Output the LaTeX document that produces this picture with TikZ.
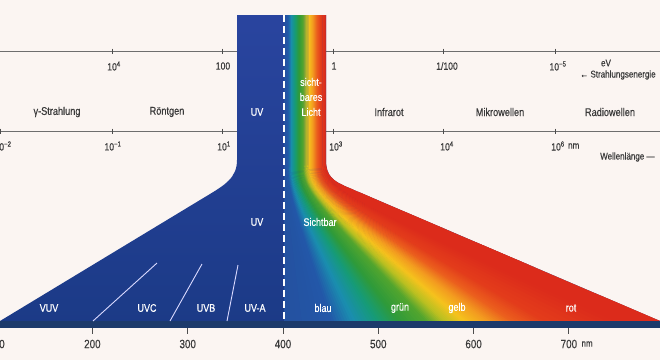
\documentclass[tikz,border=0pt]{standalone}
\usepackage{fontspec}
\newfontfamily\lab[FakeStretch=0.82,FakeBold=0.35]{Liberation Sans}
\definecolor{bg}{HTML}{FBF5F2}
\definecolor{labcol}{HTML}{3A3A3A}
\definecolor{axiscol}{HTML}{6E6E6E}
\definecolor{navy}{HTML}{1C3A6B}
\definecolor{uvtop}{HTML}{2A45A0}
\definecolor{uvbot}{HTML}{1B3A86}
\definecolor{s0}{HTML}{2450A0}
\definecolor{s1}{HTML}{2358A8}
\definecolor{s2}{HTML}{1A8DB0}
\definecolor{s3}{HTML}{169B78}
\definecolor{s4}{HTML}{2E9A3A}
\definecolor{s5}{HTML}{52A52E}
\definecolor{s6}{HTML}{B9C021}
\definecolor{s7}{HTML}{F5C31D}
\definecolor{s8}{HTML}{F39A1F}
\definecolor{s9}{HTML}{EB5F1D}
\definecolor{s10}{HTML}{E33C1B}
\definecolor{s11}{HTML}{DC2B1B}
\tikzset{
  lbl/.style={font=\lab\fontsize{11.2}{13}\selectfont, text=labcol, inner sep=0pt},
  wlbl/.style={font=\lab\fontsize{11}{13}\selectfont, text=white, inner sep=0pt},
  toplbl/.style={font=\lab\fontsize{10.5}{12}\selectfont, text=labcol, inner sep=0pt},
  numlbl/.style={font=\lab\fontsize{12}{14}\selectfont, text=labcol, inner sep=0pt},
  unitlbl/.style={font=\lab\fontsize{9.8}{11}\selectfont, text=labcol, inner sep=0pt},
  axisline/.style={draw=axiscol, line width=0.8pt},
  tickmark/.style={draw=axiscol!70!black, line width=0.9pt},
  sepline/.style={draw=white!85!blue, line width=0.9pt},
}
\begin{document}
\begin{tikzpicture}[x=1pt,y=-1pt]
\useasboundingbox (0,0) rectangle (660,360);
\fill[bg] (0,0) rectangle (660,360);

% axes
\coordinate (eA) at (0,51); \coordinate (eB) at (660,51);
\coordinate (wA) at (0,131); \coordinate (wB) at (660,131);
\draw[axisline] (eA) -- (eB);
\draw[axisline] (wA) -- (wB);
\foreach \x in {112,222,333,443,555} \draw[tickmark] (\x,48.5) -- (\x,53.5);
\foreach \x in {0,112,222,333,443,555} \draw[tickmark] (\x,128.5) -- (\x,133.5);

% coloured shape
\begin{scope}
\clip (237,15) -- (326,15) -- (326,160) .. controls (326,176) and (333,181) .. (347,187)
  -- (660,321) -- (0,321) -- (205,197) .. controls (225,185) and (237,178) .. (237,160) -- cycle;
\shade[top color=uvtop, bottom color=uvbot] (0,0) rectangle (660,330);
\foreach \xa/\xb/\ya/\yb/\ca/\cb in {
  284/288/284/332/s0/s1, 288/291/332/354/s1/s2, 291/295/354/378/s2/s3,
  295/299/378/400/s3/s4, 299/303/400/428/s4/s5, 303/306/428/446/s5/s6,
  306/309/446/466/s6/s7, 309/313/466/490/s7/s8, 313/317/490/515/s8/s9,
  317/321/515/548/s9/s10, 321/326/548/620/s10/s11, 326/345/620/780/s11/s11}{
  \foreach \i in {0,...,7}{
    \pgfmathsetmacro\ta{\xa+(\xb-\xa)*\i/8}
    \pgfmathsetmacro\tb{\xa+(\xb-\xa)*(\i+1.5)/8}
    \pgfmathsetmacro\ba{\ya+(\yb-\ya)*\i/8}
    \pgfmathsetmacro\bb{\ya+(\yb-\ya)*(\i+1.5)/8}
    \pgfmathtruncatemacro\m{94-\i*12.5}
    \fill[\ca!\m!\cb] (\ta,10) -- (\ta,160) .. controls (\ta,190) .. (\ba,323)
      -- (\bb,323) .. controls (\tb,190) .. (\tb,160) -- (\tb,10) -- cycle;
  }
}
\end{scope}

% bottom bar
\fill[navy] (0,321) rectangle (660,328);
\foreach \x in {92.4,187.7,283,378.3,473.6,568.9} \draw[tickmark] (\x,328) -- (\x,334);

% UV separators
\coordinate (c1a) at (93,321); \coordinate (c1b) at (157,263);
\coordinate (c2a) at (170,321); \coordinate (c2b) at (202,264);
\coordinate (c3a) at (227,321); \coordinate (c3b) at (238,265);
\draw[sepline] (c1a) -- (c1b);
\draw[sepline] (c2a) -- (c2b);
\draw[sepline] (c3a) -- (c3b);

% dashed 400 nm line
\coordinate (dA) at (284,15); \coordinate (dB) at (284,321);
\draw[white, line width=1.3pt, dash pattern=on 7pt off 4pt] (dA) -- (dB);

% energy labels
\node[toplbl] (e1) at (114,66) {10\textsuperscript{4}};
\node[toplbl] (e2) at (223,66) {100};
\node[toplbl] (e3) at (334,66) {1};
\node[toplbl] (e4) at (447,66) {1/100};
\node[toplbl] (e5) at (558,66) {10\textsuperscript{−5}};
\node[unitlbl] (ev) at (606,63) {eV};
\node[unitlbl, anchor=west] (se) at (580,75) {← Strahlungsenergie};

% region labels
\node[lbl] (gam) at (57,112) {γ-Strahlung};
\node[lbl] (ron) at (167,112) {Röntgen};
\node[wlbl] (uv1) at (257,112) {UV};
\node[wlbl, align=center, font=\lab\fontsize{11}{15}\selectfont] (sl) at (311,97) {sicht-\\bares\\Licht};
\node[lbl] (ir) at (389,112) {Infrarot};
\node[lbl] (mw) at (500,112) {Mikrowellen};
\node[lbl] (rw) at (610,112) {Radiowellen};

% wavelength labels
\node[toplbl] (w0) at (3,146) {10\textsuperscript{−2}};
\node[toplbl] (w1) at (113,146) {10\textsuperscript{−1}};
\node[toplbl] (w2) at (224,146) {10\textsuperscript{1}};
\node[toplbl] (w3) at (336,146) {10\textsuperscript{3}};
\node[toplbl] (w4) at (447,146) {10\textsuperscript{4}};
\node[toplbl] (w5) at (558,146) {10\textsuperscript{6}};
\node[unitlbl, anchor=west] (wnm) at ([xshift=3pt]w5.east) {nm};
\node[unitlbl, anchor=west] (wl) at (600,157) {Wellenlänge —};

% triangle labels
\node[wlbl] (uv2) at (257,222) {UV};
\node[wlbl] (sb) at (320,222) {Sichtbar};
\node[wlbl] (vuv) at (49,308) {VUV};
\node[wlbl] (uvc) at (147,308) {UVC};
\node[wlbl] (uvb) at (206,308) {UVB};
\node[wlbl] (uva) at (255,308) {UV-A};
\node[wlbl] (bl) at (323,308) {blau};
\node[wlbl] (gr) at (400,308) {grün};
\node[wlbl] (ge) at (457,308) {gelb};
\node[wlbl] (rot) at (571,308) {rot};

% nm scale labels
\node[numlbl] (n1) at (-3.5,344) {100};
\node[numlbl] (n2) at (92.4,344) {200};
\node[numlbl] (n3) at (187.7,344) {300};
\node[numlbl] (n4) at (283,344) {400};
\node[numlbl] (n5) at (378.3,344) {500};
\node[numlbl] (n6) at (473.6,344) {600};
\node[numlbl] (n7) at (568.9,344) {700};
\node[unitlbl, anchor=west] (nnm) at ([xshift=4pt]n7.east) {nm};
\end{tikzpicture}
\end{document}
